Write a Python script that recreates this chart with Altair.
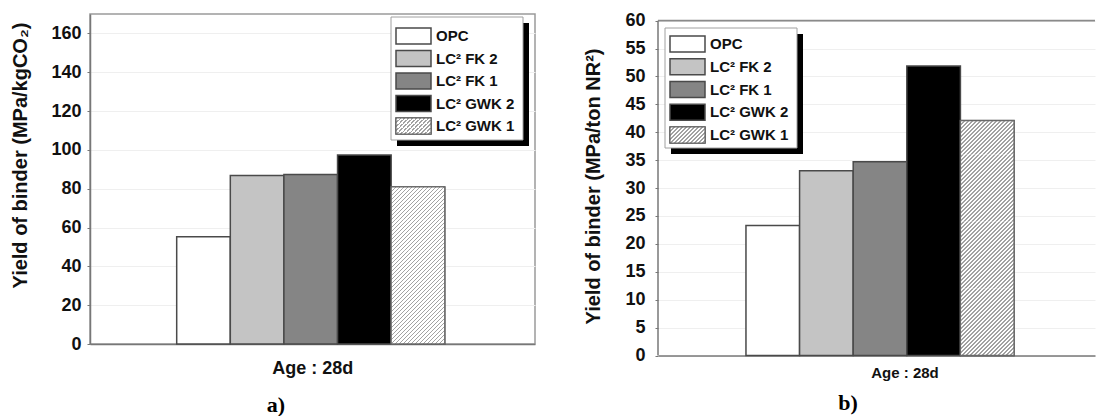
import math
import altair as alt
import pandas as pd

# ---------------- data ----------------
series = ["OPC", "LC² FK 2", "LC² FK 1", "LC² GWK 2", "LC² GWK 1"]
age_label = "Age : 28d"
yield_co2 = [55.2, 86.8, 87.3, 97.4, 80.9]     # panel a (MPa/kgCO2)
yield_nr = [23.3, 33.1, 34.7, 51.9, 42.1]      # panel b (MPa/ton NR2)
fills = ["#ffffff", "#c4c4c4", "#858585", "#000000", "#ffffff"]
ticks_a = list(range(0, 161, 20))
ticks_b = list(range(0, 61, 5))
title_a = "Yield of binder (MPa/kgCO₂)"
title_b = "Yield of binder (MPa/ton NR²)"
panel_names = ["a)", "b)"]
hatched = "LC² GWK 1"

SANS = "Liberation Sans"
SERIF = "Liberation Serif"


def hatch(w, h, y0=0.0, P=4.0, line=0.36, color="#a2a2a2"):
    """'/' hatch (horizontal period P px) as a sharp-stop gradient over a w x h box;
    y0 = vertical pixel offset of the box top, to keep stripes continuous."""
    D = w + h
    k = D / (w * w + h * h)
    stops = []
    m = math.floor(y0 / P) - 1
    while m * P - y0 <= D:
        g0, g1 = max(0.0, m * P - y0), min(D, m * P + line * P - y0)
        if g1 > g0:
            stops += [{"offset": g0 / D, "color": color}, {"offset": g1 / D, "color": color}]
        w0, w1 = max(0.0, m * P + line * P - y0), min(D, (m + 1) * P - y0)
        if w1 > w0:
            stops += [{"offset": w0 / D, "color": "#ffffff"}, {"offset": w1 / D, "color": "#ffffff"}]
        m += 1
    return {"gradient": "linear", "x1": 0, "y1": 0, "x2": w * k, "y2": h * k, "stops": stops}


def panel(values, dmax, ticks, ytitle, width, height, po, align, xfont, xpad, xoff,
          ypad, ytitle_pad, ytitle_y, leg, name, name_xy, seg, axis_domain=True, top_rule=None):
    df = pd.DataFrame({"age": [age_label] * len(series), "series": series, "value": values})
    leg_df = pd.DataFrame({"series": series, "idx": list(range(len(series)))})

    step = width / (1 + 2 * po)
    bar_w = step / len(series)
    ppu = height / dmax
    hv = values[series.index(hatched)]

    x = alt.X("age:N", scale=alt.Scale(paddingInner=0, paddingOuter=po, align=align),
              axis=alt.Axis(title=None, ticks=False, labelAngle=0, labelFont=SANS,
                            labelFontSize=xfont, labelFontWeight="bold", labelColor="#111",
                            labelPadding=xpad, labelOffset=xoff, domainColor="#777",
                            domainWidth=1.5, grid=False))
    xo = alt.XOffset("series:N", sort=series,
                     scale=alt.Scale(domain=series, paddingInner=0, paddingOuter=0))
    yscale = alt.Scale(domain=[0, dmax], nice=False, zero=True)
    yaxis = alt.Axis(values=ticks, title=ytitle, titleFont=SANS, titleFontSize=20,
                     titleFontWeight="bold", titleColor="#111", titlePadding=ytitle_pad,
                     titleY=ytitle_y, labelFont=SANS, labelFontSize=18,
                     labelFontWeight="bold", labelColor="#111", labelPadding=ypad,
                     labelOverlap=False, tickSize=3, tickColor="#777",
                     domain=axis_domain, domainColor="#777", domainWidth=1.5,
                     gridColor="#efefef", gridWidth=1)
    y = alt.Y("value:Q", scale=yscale, axis=yaxis)

    bars = alt.Chart(df).mark_bar(stroke="#4a4a4a", strokeWidth=1.5).encode(
        x=x, xOffset=xo, y=y,
        fill=alt.Fill("series:N", scale=alt.Scale(domain=series, range=fills), legend=None),
    )
    layers = [bars]

    # hatched bar: stacked pieces, each with its own short gradient
    nseg = math.ceil(hv / seg)
    for kk in range(nseg):
        lo = kk * seg
        hi = min(hv, (kk + 1) * seg)
        y_top_px = (hv - hi) * ppu
        h_px = (hi - lo) * ppu
        if h_px <= 0:
            continue
        layers.append(
            alt.Chart(df).transform_filter(alt.datum.series == hatched)
            .transform_calculate(lo=f"{lo}", hi=f"min(datum.value, {(kk + 1) * seg})")
            .mark_bar(fill=hatch(bar_w, h_px, y_top_px), strokeWidth=0)
            .encode(x=x, xOffset=xo, y=alt.Y("lo:Q", scale=yscale, axis=yaxis), y2="hi:Q")
        )
    layers.append(
        alt.Chart(df).transform_filter(alt.datum.series == hatched)
        .mark_bar(filled=False, stroke="#6a6a6a", strokeWidth=1.3).encode(x=x, xOffset=xo, y=y)
    )

    if not axis_domain:
        rule_df = pd.DataFrame({"lo": [0], "hi": [top_rule]})
        layers.append(alt.Chart(rule_df).mark_rule(color="#777", strokeWidth=1.5).encode(
            x=alt.value(0), y=alt.Y("lo:Q", scale=yscale, axis=yaxis), y2="hi:Q"))
        layers.append(alt.Chart(rule_df).mark_rule(color="#8a8a8a", strokeWidth=1.8).encode(
            x=alt.value(0), x2=alt.value(width), y=alt.Y("hi:Q", scale=yscale, axis=yaxis)))

    # legend (custom, with drop shadow)
    bx0, bx1, by0, by1 = leg["box"]
    sh = 6
    one = alt.Data(values=[{}])
    layers.append(alt.Chart(one).mark_rect(color="#000").encode(
        x=alt.value(bx0 + sh), x2=alt.value(bx1 + sh), y=alt.value(by0 + sh), y2=alt.value(by1 + sh)))
    layers.append(alt.Chart(one).mark_rect(fill="#fff", stroke="#a0a0a0", strokeWidth=1).encode(
        x=alt.value(bx0), x2=alt.value(bx1), y=alt.value(by0), y2=alt.value(by1)))

    r0, pitch = leg["rows"]
    sx0, sx1 = leg["sw"]
    sw_h = 16
    base = alt.Chart(leg_df).transform_calculate(
        ly=f"{r0} + datum.idx * {pitch}",
        ly0=f"{r0} + datum.idx * {pitch} - {sw_h / 2}",
        ly1=f"{r0} + datum.idx * {pitch} + {sw_h / 2}",
    )
    layers.append(base.mark_rect(stroke="#4a4a4a", strokeWidth=1.5).encode(
        x=alt.value(sx0), x2=alt.value(sx1),
        y=alt.Y("ly0:Q", scale=None), y2=alt.Y2("ly1:Q"),
        fill=alt.Fill("series:N", scale=alt.Scale(domain=series, range=fills), legend=None)))
    layers.append(base.transform_filter(alt.datum.series == hatched).mark_rect(
        fill=hatch(sx1 - sx0, sw_h), stroke="#6a6a6a", strokeWidth=1.2).encode(
        x=alt.value(sx0), x2=alt.value(sx1),
        y=alt.Y("ly0:Q", scale=None), y2=alt.Y2("ly1:Q")))
    layers.append(base.mark_text(align="left", baseline="middle", font=SANS, fontSize=15,
                                 fontWeight="bold", color="#111").encode(
        x=alt.value(leg["lx"]), y=alt.Y("ly:Q", scale=None), text="series:N"))

    layers.append(alt.Chart(alt.Data(values=[{"t": name}])).mark_text(
        font=SERIF, fontSize=22, fontWeight="bold", color="#000", baseline="middle",
        align="center").encode(x=alt.value(name_xy[0]), y=alt.value(name_xy[1]), text="t:N"))

    return alt.layer(*layers).properties(width=width, height=height)


left = panel(yield_co2, 170, ticks_a, title_a, 445, 330, po=0.33, align=0.49,
             xfont=18, xpad=15, xoff=2, ypad=6, ytitle_pad=20, ytitle_y=141,
             leg={"box": (301, 433, 3, 126), "rows": (22, 22.5), "sw": (306, 341), "lx": 346},
             name=panel_names[0], name_xy=(186, 391), seg=16)

right = panel(yield_nr, 61.2, ticks_b, title_b, 437, 341.5, po=0.309, align=0.527,
              xfont=15, xpad=10, xoff=24, ypad=10, ytitle_pad=21, ytitle_y=172,
              leg={"box": (7, 139, 14, 134), "rows": (30, 22.75), "sw": (12, 47), "lx": 52},
              name=panel_names[1], name_xy=(190, 389), seg=6, axis_domain=False, top_rule=60
              ).properties(view=alt.ViewBackground(stroke=None))

chart = alt.hconcat(left, right, spacing=47).properties(
    padding={"left": 10, "top": 11, "right": 0, "bottom": 0},
    background="#ffffff",
).configure_view(stroke="#9a9a9a", strokeWidth=1.5)

chart.save("out.html", embed_options={"renderer": "svg", "actions": False})
